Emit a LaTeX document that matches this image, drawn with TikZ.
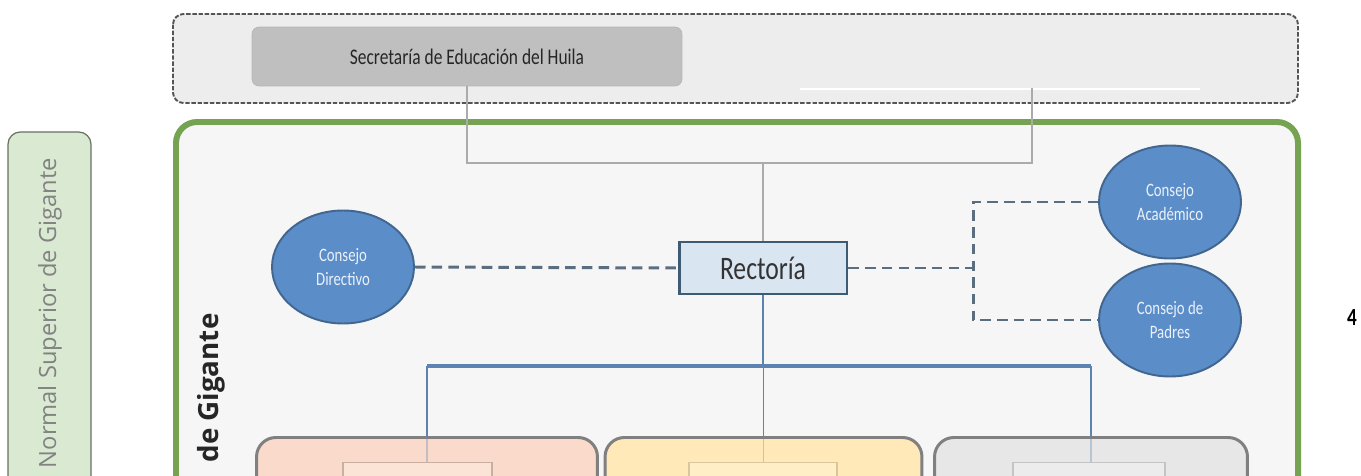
\documentclass[tikz,border=0pt]{standalone}
\usepackage{fontspec}
\setmainfont{Carlito}
\newfontfamily\orgfont[FakeStretch=0.78]{Carlito}
\newfontfamily\sidefont{Open Sans}
\usetikzlibrary{shapes.geometric}

\definecolor{sedfill}{HTML}{EDEDED}
\definecolor{sedline}{HTML}{555555}
\definecolor{secfill}{HTML}{BFBFBF}
\definecolor{iegreen}{HTML}{76A352}
\definecolor{iefill}{HTML}{F6F6F6}
\definecolor{sidefill}{HTML}{DAEAD2}
\definecolor{sideline}{HTML}{66735F}
\definecolor{sidetext}{HTML}{828282}
\definecolor{elfill}{HTML}{5B8DC9}
\definecolor{elline}{HTML}{41668F}
\definecolor{rectfill}{HTML}{DAE5F2}
\definecolor{rectline}{HTML}{3E5B74}
\definecolor{dashcol}{HTML}{5B6E80}
\definecolor{blueln}{HTML}{5D84B0}
\definecolor{grayln}{HTML}{ABABAB}
\definecolor{areaA}{HTML}{FADBCB}
\definecolor{areaB}{HTML}{FFE9B8}
\definecolor{areaC}{HTML}{E7E7E7}
\definecolor{subA}{HTML}{FBE3D6}
\definecolor{subB}{HTML}{FFEEC6}
\definecolor{subC}{HTML}{ECECEC}

\tikzset{
  sedframe/.style={draw=sedline, fill=sedfill, line width=1.1pt,
    dash pattern=on 2.5pt off 1pt, rounded corners=6pt},
  ieframe/.style={draw=iegreen, fill=iefill, line width=3.4pt, rounded corners=12pt},
  sideframe/.style={draw=sideline, fill=sidefill, line width=0.7pt, rounded corners=7pt},
  secbox/.style={rectangle, rounded corners=4pt, draw=secfill!95!black, fill=secfill,
    minimum width=8.6cm, minimum height=1.18cm, text=black!85,
    font=\orgfont\fontsize{12.7}{14}\selectfont},
  rectbox/.style={rectangle, draw=rectline, fill=rectfill, line width=1.7pt,
    minimum width=3.36cm, minimum height=1.04cm, text=black!80,
    font=\orgfont\fontsize{18.7}{21}\selectfont},
  consejo/.style={ellipse, draw=elline, fill=elfill, line width=1.1pt,
    minimum width=2.84cm, minimum height=2.26cm, inner sep=0pt, align=center,
    text=white!88!elfill, font=\orgfont\fontsize{10.8}{14}\selectfont},
  area/.style={rectangle, anchor=north, draw=black!50, line width=1.7pt,
    rounded corners=11pt, minimum height=2cm},
  subarea/.style={rectangle, anchor=north, line width=0.8pt, minimum height=1.5cm},
  dashlink/.style={draw=dashcol, line width=1.7pt, dash pattern=on 6pt off 3.5pt},
  grayline/.style={draw=grayln, line width=1pt},
  blueline/.style={draw=blueln, line width=0.9pt}
}

\begin{document}
\begin{tikzpicture}[x=0.02cm,y=-0.02cm]
\clip (0,0) rectangle (1361,476);
\fill[white] (0,0) rectangle (1361,476);

% frames
\draw[sedframe] (173,14) rectangle (1298,103);
\draw[white, line width=0.8pt] (800,89) -- (1200,89);
\draw[ieframe] (176,122) rectangle (1298,560);
\draw[sideframe] (8,132) rectangle (91,560);

\node[rotate=90, text=sidetext, font=\sidefont\fontsize{13.5}{15}\selectfont] (ensg) at (50,313) {Normal Superior de Gigante};
\node[rotate=90, text=black!85, font=\sidefont\bfseries\fontsize{15.8}{17}\selectfont] (iedg) at (211,388) {de Gigante};

% units
\node[secbox] (sec) at (467,56.5) {Secretaría de Educación del Huila};
\node[rectbox] (rect) at (763,268) {Rectoría};
\node[consejo] (cdir) at (343,267) {Consejo\\Directivo};
\node[consejo] (cacad) at (1170,202) {Consejo\\Académico};
\node[consejo] (cpad) at (1170,320) {Consejo de\\Padres};

\node[area, fill=areaA, minimum width=6.82cm] (arA) at (427,436) {};
\node[area, fill=areaB, minimum width=6.34cm] (arB) at (763.5,436) {};
\node[area, fill=areaC, minimum width=6.26cm] (arC) at (1091,436) {};
\node[subarea, fill=subA, draw=areaA!80!black, minimum width=2.98cm] (sbA) at (417.5,462) {};
\node[subarea, fill=subB, draw=areaB!85!black, minimum width=2.96cm] (sbB) at (763,462) {};
\node[subarea, fill=subC, draw=areaC!85!black, minimum width=3.04cm] (sbC) at (1089,462) {};

% connectors
\coordinate (join) at (763,163);
\coordinate (rtop) at (1032,88);
\coordinate (bar) at (763,366);
\coordinate (split) at (973,268);

\draw[grayline] (sec.south) |- (join) -| (rtop);
\draw[grayline] (join) -- (rect.north);

\draw[dashlink] (cdir.east) -- (rect.west);
\draw[dashlink] (rect.east) -- (split);
\draw[dashlink] (cacad.west) -| (split) |- (cpad.west);

\draw[blueline] (rect.south) -- (bar);
\draw[blueln, line width=1.8pt] (arA.north |- bar) -- (arC.north |- bar);
\foreach \a in {A,B,C} {
  \draw[blueline] (ar\a.north |- bar) -- (ar\a.north);
  \draw[blueline, draw opacity=0.35] (ar\a.north) -- (ar\a.north |- sb\a.north);
}

\node[font=\orgfont\bfseries\fontsize{14}{16}\selectfont] (pnum) at (1352,318) {4};
\end{tikzpicture}
\end{document}
